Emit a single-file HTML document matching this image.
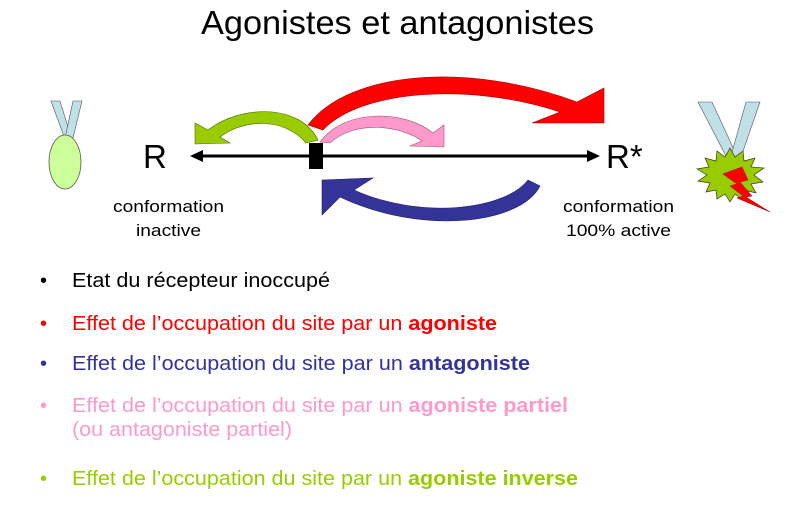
<!DOCTYPE html>
<html><head><meta charset="utf-8"><style>
html,body{margin:0;padding:0;background:#fff;width:810px;height:516px;overflow:hidden}
svg{display:block}
text{font-family:"Liberation Sans",Arial,sans-serif}
</style></head><body>
<svg width="810" height="516" viewBox="0 0 810 516">
<text x="201" y="34" font-size="33" textLength="393" lengthAdjust="spacingAndGlyphs" fill="#000">Agonistes et antagonistes</text>

<!-- left medal -->
<polygon points="51,101 60,101 72,140 66,142" fill="#bfe0e6" stroke="#555" stroke-width="0.6"/>
<polygon points="73,101 82,101 72,142 65,138" fill="#bfe0e6" stroke="#555" stroke-width="0.6"/>
<ellipse cx="65" cy="162" rx="16" ry="27" fill="#ccff99" stroke="#555" stroke-width="0.8"/>

<!-- right medal -->
<polygon points="698,102 712,102 736,154 728,160" fill="#bfe0e6" stroke="#555" stroke-width="0.6"/>
<polygon points="746,102 760,102 740,160 731,156" fill="#bfe0e6" stroke="#555" stroke-width="0.6"/>
<polygon points="730,148 735,157 743,151 744,161 755,158 751,167 764,168 754,175 763,182 751,184 756,193 744,190 743,200 735,194 730,202 725,194 717,199 716,190 706,192 710,183 698,181 707,175 697,169 709,167 705,158 716,161 717,151 725,157" fill="#99cc00" stroke="#333" stroke-width="0.7"/>
<polygon points="723,174 742,167 748,180 740,182 752,196 746,197 770,212 737,198 743,196 730,186 737,184" fill="#ff0000" stroke="#800" stroke-width="0.5"/>

<!-- axis -->
<line x1="200" y1="156" x2="590" y2="156" stroke="#000" stroke-width="3"/>
<polygon points="190,156 203,150 203,162" fill="#000"/>
<polygon points="600,156 587,150 587,162" fill="#000"/>
<rect x="309" y="143" width="14" height="26" fill="#000"/>
<text x="143" y="168" font-size="33">R</text>
<text x="606" y="168" font-size="33">R*</text>
<g font-size="17">
<text x="113" y="212" textLength="111" lengthAdjust="spacingAndGlyphs">conformation</text>
<text x="136" y="236" textLength="65" lengthAdjust="spacingAndGlyphs">inactive</text>
<text x="563" y="212" textLength="111" lengthAdjust="spacingAndGlyphs">conformation</text>
<text x="566" y="236" textLength="105" lengthAdjust="spacingAndGlyphs">100% active</text>
</g>

<!-- red arrow -->
<path d="M308,125 C350,70 470,62 577,102 L604,88 L604,123 L532,123 L560,112 C470,82 360,90 323,130 Z" fill="#ff0000" stroke="#a00" stroke-width="0.6"/>
<!-- green arrow -->
<path d="M318,140 C300,103 240,105 208,130 L195,123 L195,144 L230,143 L220,137 C245,118 285,118 306,143 Z" fill="#99cc00" stroke="#4a6a00" stroke-width="0.6"/>
<!-- pink arrow -->
<path d="M320,142 C345,108 405,110 433,133 L444,125 L444,147 L410,146 L422,141 C400,125 355,120 330,143 Z" fill="#ff99cc" stroke="#a05070" stroke-width="0.6"/>
<!-- blue arrow -->
<path d="M540,186 C520,225 420,235 340,197 L322,215 L322,180 L373,178 L354,190 C420,220 505,210 528,180 Z" fill="#333399" stroke="#222266" stroke-width="0.6"/>

<!-- bullets -->
<g font-size="20">
<text x="40" y="287" fill="#000">•</text>
<text x="72" y="287" fill="#000" textLength="258" lengthAdjust="spacingAndGlyphs">Etat du récepteur inoccupé</text>
<text x="40" y="330" fill="#ff0000">•</text>
<text x="72" y="330" fill="#ff0000" textLength="425" lengthAdjust="spacingAndGlyphs">Effet de l’occupation du site par un <tspan font-weight="bold">agoniste</tspan></text>
<text x="40" y="370" fill="#333399">•</text>
<text x="72" y="370" fill="#333399" textLength="458" lengthAdjust="spacingAndGlyphs">Effet de l’occupation du site par un <tspan font-weight="bold">antagoniste</tspan></text>
<text x="40" y="412" fill="#ff99cc">•</text>
<text x="72" y="412" fill="#ff99cc" textLength="496" lengthAdjust="spacingAndGlyphs">Effet de l’occupation du site par un <tspan font-weight="bold">agoniste partiel</tspan></text>
<text x="72" y="436" fill="#ff99cc" textLength="220" lengthAdjust="spacingAndGlyphs">(ou antagoniste partiel)</text>
<text x="40" y="485" fill="#99cc00">•</text>
<text x="72" y="485" fill="#99cc00" textLength="506" lengthAdjust="spacingAndGlyphs">Effet de l’occupation du site par un <tspan font-weight="bold">agoniste inverse</tspan></text>
</g>
</svg>
</body></html>
